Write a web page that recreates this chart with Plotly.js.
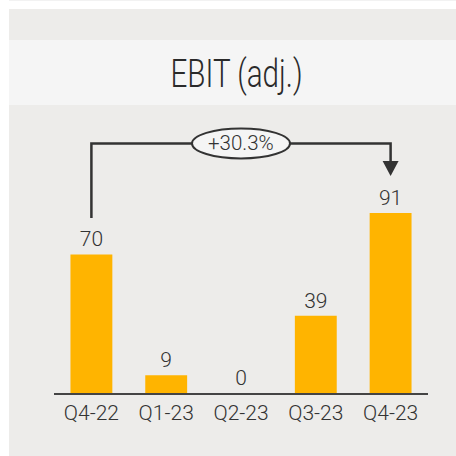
<!DOCTYPE html>
<html>
<head>
<meta charset="utf-8">
<script src="https://cdn.plot.ly/plotly-3.0.1.min.js"></script>
<style>
  html, body { margin: 0; padding: 0; background: #ffffff; }
  #wrap { position: relative; width: 456px; height: 456px; overflow: hidden; }
  #topline { position: absolute; left: 9px; top: 0; width: 447px; height: 1px; background: #f2f2f2; }
  #bg { position: absolute; left: 9px; top: 9px; width: 447px; height: 447px; background: #edecea; }
  #band { position: absolute; left: 9px; top: 40px; width: 447px; height: 65px; background: #f5f5f5; }
  #chart { position: absolute; left: 0; top: 0; width: 456px; height: 456px; }
  #chart .gtitle { transform-box: fill-box; transform-origin: center; transform: scaleX(0.76); }
</style>
</head>
<body>
<div id="wrap">
  <div id="topline"></div>
  <div id="bg"></div>
  <div id="band"></div>
  <div id="chart"></div>
</div>
<script>
const categories = ["Q4-22", "Q1-23", "Q2-23", "Q3-23", "Q4-23"];
const ebitValues = [70, 9, 0, 39, 91];
const changeLabel = "+30.3%";
const chartTitle = "EBIT (adj.)";

const xIdx = categories.map((c, i) => i);

const bars = {
  type: "bar",
  x: xIdx,
  y: ebitValues,
  text: ebitValues.map(v => String(v)),
  textposition: "outside",
  cliponaxis: false,
  constraintext: "none",
  textfont: { family: "Roboto, sans-serif", size: 21, weight: 300, color: "#333333" },
  marker: { color: "#ffb400", line: { width: 0 } },
  hoverinfo: "skip",
  showlegend: false
};

const first = 0, last = categories.length - 1;
const startY = ebitValues[first] + 18.4;
const topY = 126.1;
const tipY = 109.7;

const layout = {
  width: 456,
  height: 456,
  paper_bgcolor: "rgba(0,0,0,0)",
  plot_bgcolor: "rgba(0,0,0,0)",
  margin: { l: 54, r: 28, t: 113, b: 63, pad: 0 },
  bargap: 0.44,
  title: {
    text: chartTitle,
    font: { family: "Roboto, sans-serif", size: 39, weight: 300, color: "#2a2a2a" },
    xref: "container", yref: "container",
    x: 0.5186, y: 1 - 73 / 456,
    xanchor: "center", yanchor: "middle"
  },
  xaxis: {
    type: "linear",
    range: [-0.5, 4.5],
    tickvals: xIdx,
    ticktext: categories,
    showgrid: false,
    zeroline: false,
    showline: true,
    linecolor: "#444444",
    linewidth: 2,
    ticks: "",
    tickfont: { family: "Roboto, sans-serif", size: 21, weight: 300, color: "#333333" },
    fixedrange: true
  },
  yaxis: {
    range: [0, 141.5],
    visible: false,
    showgrid: false,
    zeroline: false,
    fixedrange: true
  },
  shapes: [
    {
      type: "path",
      xref: "x", yref: "y",
      path: `M${first},${startY} V${topY} H${last} V${tipY + 7.6}`,
      line: { color: "#333333", width: 2.5 },
      layer: "above"
    },
    {
      type: "path",
      xref: "x", yref: "y",
      xsizemode: "pixel", ysizemode: "pixel",
      xanchor: last, yanchor: tipY,
      path: "M-8,15 L8,15 L0,0 Z",
      fillcolor: "#333333",
      line: { width: 0 },
      layer: "above"
    },
    {
      type: "circle",
      xref: "x", yref: "y",
      xsizemode: "pixel", ysizemode: "pixel",
      xanchor: (first + last) / 2, yanchor: topY,
      x0: -49, x1: 49, y0: -15, y1: 15,
      fillcolor: "#f5f5f5",
      line: { color: "#333333", width: 2 },
      layer: "above"
    }
  ],
  annotations: [
    {
      x: (first + last) / 2, y: topY,
      xref: "x", yref: "y",
      text: changeLabel,
      showarrow: false,
      xanchor: "center", yanchor: "middle",
      font: { family: "Roboto, sans-serif", size: 20.5, weight: 300, color: "#333333" }
    }
  ]
};

Plotly.newPlot("chart", [bars], layout, { displayModeBar: false, staticPlot: true });
</script>
</body>
</html>
